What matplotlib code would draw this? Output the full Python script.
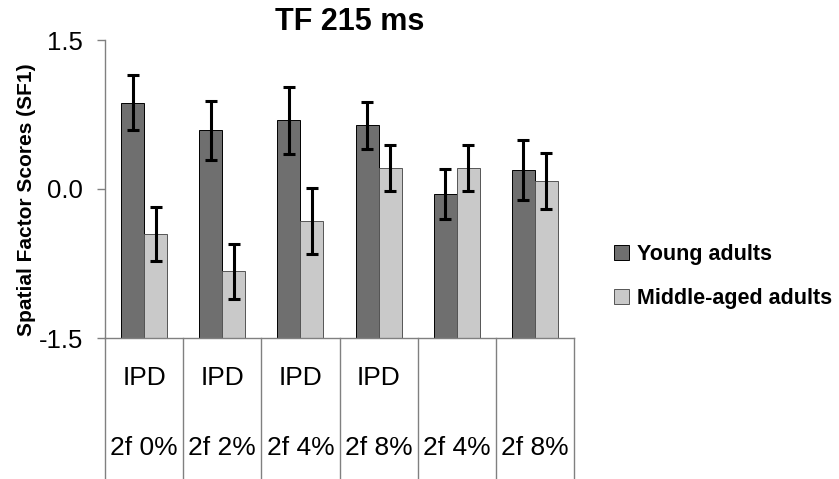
import matplotlib
matplotlib.use("Agg")
import matplotlib.pyplot as plt
import numpy as np
from matplotlib.patches import Patch

plt.rcParams['font.family'] = ['Liberation Sans', 'DejaVu Sans']

# Data
top_labels = ["IPD", "IPD", "IPD", "IPD", "", ""]
bottom_labels = ["2f 0%", "2f 2%", "2f 4%", "2f 8%", "2f 4%", "2f 8%"]
series_names = ["Young adults", "Middle-aged adults"]
young = [0.87, 0.59, 0.69, 0.64, -0.05, 0.19]
young_err = [0.28, 0.30, 0.34, 0.24, 0.25, 0.30]
middle = [-0.45, -0.83, -0.32, 0.21, 0.21, 0.08]
middle_err = [0.27, 0.28, 0.33, 0.23, 0.23, 0.28]
yticks = [-1.5, 0.0, 1.5]
ytick_labels = ["-1.5", "0.0", "1.5"]
title = "TF 215 ms"
ylabel = "Spatial Factor Scores (SF1)"
ymin, ymax = -1.5, 1.5

dark = "#6f6f6f"
light = "#c9c9c9"
gridgray = "#808080"

fig = plt.figure(figsize=(8.39, 4.79), dpi=100)
ax = fig.add_axes([105/839, 1-338/479, (574-105)/839, (338-40)/479])

x = np.arange(len(young))
w = 0.295
ax.bar(x - w/2, np.array(young) - ymin, w, bottom=ymin, color=dark,
       edgecolor="black", linewidth=0.7, zorder=2)
ax.bar(x + w/2, np.array(middle) - ymin, w, bottom=ymin, color=light,
       edgecolor="#555555", linewidth=0.7, zorder=2)
ax.errorbar(x - w/2, young, yerr=young_err, fmt="none", ecolor="black",
            elinewidth=2.2, capsize=4, capthick=2.2, zorder=3)
ax.errorbar(x + w/2, middle, yerr=middle_err, fmt="none", ecolor="black",
            elinewidth=2.2, capsize=4, capthick=2.2, zorder=3)

ax.set_xlim(-0.5, len(young) - 0.5)
ax.set_ylim(ymin, ymax)
ax.set_yticks(yticks)
ax.set_yticklabels(ytick_labels, fontsize=18.5)
ax.set_xticks([])
ax.tick_params(axis="y", direction="out", length=6, width=1, color=gridgray, pad=10)
for s in ["top", "right"]:
    ax.spines[s].set_visible(False)
for s in ["left", "bottom"]:
    ax.spines[s].set_color(gridgray)
    ax.spines[s].set_linewidth(1)

# Category table below the axis
tr = ax.get_xaxis_transform()
for b in np.arange(-0.5, len(young), 1.0):
    ax.plot([b, b], [0, -0.5], transform=tr, color=gridgray, lw=1, clip_on=False)
for i in range(len(young)):
    if top_labels[i]:
        ax.text(x[i], -0.134, top_labels[i], transform=tr, ha="center", va="center", fontsize=19)
    ax.text(x[i], -0.369, bottom_labels[i], transform=tr, ha="center", va="center", fontsize=19)

fig.text(350/839, 1-22/479, title, ha="center", va="center", fontsize=22, fontweight="bold")
fig.text(27/839, 1-200/479, ylabel, ha="center", va="center", rotation=90,
         fontsize=15, fontweight="bold")

handles = [Patch(facecolor=dark, edgecolor="black", linewidth=0.7),
           Patch(facecolor=light, edgecolor="#555555", linewidth=0.7)]
fig.legend(handles, series_names, loc="upper left", bbox_to_anchor=(614/839, 1-244/479),
           frameon=False, prop={"weight": "bold", "size": 15.5},
           handlelength=0.7, handleheight=0.7, handletextpad=0.35, labelspacing=1.05,
           borderpad=0, borderaxespad=0)

fig.savefig("out.png", dpi=100)
